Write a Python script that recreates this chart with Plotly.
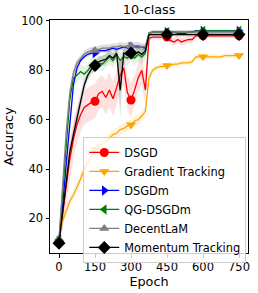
import plotly.graph_objects as go

epochs = list(range(0, 751, 15))

dsgd = [10.5, 22, 34, 44, 52, 58, 62, 65, 66, 67,
        67.5, 70.5, 71.5, 69, 72, 68.5, 73, 78, 81, 71,
        68, 72, 77, 80, 72, 93, 93.5, 93.5, 93.5, 93.5,
        93.5, 92, 91.5, 92.5, 91.5, 92, 92.5, 92.5, 94, 94,
        94, 94, 94, 94, 94, 94, 94, 94, 94, 94, 94]
dsgd_sd = [1, 6, 8, 8, 8, 7, 7, 7, 7, 7,
           7, 6.5, 6.5, 7, 7, 7, 7, 7, 7, 7,
           7, 6, 6, 6, 6, 1, 1, 1, 1, 1,
           1, 1.5, 1.5, 1.5, 1.5, 1.5, 1.5, 1.5, 1, 1,
           1, 1, 1, 1, 1, 1, 1, 1, 1, 1, 1]

gt = [10.5, 19, 23, 27, 29.5, 32.5, 36, 40, 43, 45.5,
      48, 49.5, 50, 51, 52.5, 54, 54.5, 56, 56.5, 57.5,
      58, 59.5, 60, 61.5, 63.5, 77, 80, 81, 81.5, 81.5,
      82, 82, 82.5, 82.5, 83, 83, 83, 83.5, 85.5, 85.5,
      85.5, 85.5, 85.5, 85.5, 85.5, 85.5, 86, 86, 86, 86, 86]
gt_sd = [1, 2, 2, 2, 2, 2, 2, 2, 2, 2,
         2, 2, 2, 2, 2, 2, 2, 2, 2, 2,
         2, 2, 2, 2, 2, 1.5, 1, 1, 1, 1,
         1, 1, 1, 1, 1, 1, 1, 1, 1, 1,
         1, 1, 1, 1, 1, 1, 1, 1, 1, 1, 1]

dsgdm = [11, 25, 42, 59, 74, 81, 84, 85.5, 86.5, 87,
         87, 88, 88, 88, 88.5, 89, 88.5, 89, 89.5, 89,
         89.5, 89.5, 89.5, 89.5, 89, 95, 95.5, 95.5, 95.5, 95.5,
         95.5, 95.5, 95.5, 95, 95, 95, 95.5, 95.5, 96, 96,
         96, 96, 96, 96, 96, 96, 96, 96, 96, 96, 96]
dsgdm_sd = [1, 2, 2, 2, 1.5, 1.5, 1, 1, 1, 1,
            1, 1, 1, 1, 1, 1, 1, 1, 1, 1,
            1, 1, 1, 1, 1, 0.5, 0.5, 0.5, 0.5, 0.5,
            0.5, 0.5, 0.5, 0.5, 0.5, 0.5, 0.5, 0.5, 0.5, 0.5,
            0.5, 0.5, 0.5, 0.5, 0.5, 0.5, 0.5, 0.5, 0.5, 0.5, 0.5]

qg = [11.5, 30, 52, 68, 77, 78, 79.5, 78.5, 80, 82,
      82, 83, 82.5, 84, 85.5, 84, 86.5, 84, 85.5, 85,
      86.5, 85, 86.5, 85.5, 87, 95, 95.5, 95.5, 95.5, 95.5,
      95.5, 95.5, 95.5, 95.5, 95.5, 95.5, 95.5, 95.5, 96, 96,
      96, 96, 96, 96, 96, 96, 96, 96, 96, 96, 96]
qg_sd = [1, 2, 2, 2, 3, 3, 3, 3, 3, 3,
         3, 3, 3, 3, 3, 3, 3, 3, 3, 3,
         3, 3, 3, 3, 3, 0.5, 0.5, 0.5, 0.5, 0.5,
         0.5, 0.5, 0.5, 0.5, 0.5, 0.5, 0.5, 0.5, 0.5, 0.5,
         0.5, 0.5, 0.5, 0.5, 0.5, 0.5, 0.5, 0.5, 0.5, 0.5, 0.5]

decentlam = [11.5, 32, 55, 71, 79, 83, 85, 86.5, 87.5, 88,
             88, 88.5, 89, 89, 89, 89.5, 89.5, 90, 89.5, 90,
             90, 90, 90, 89.5, 89.5, 95, 95.5, 95.5, 95.5, 95.5,
             95.5, 95.5, 95.5, 95.5, 95.5, 95.5, 95.5, 95.5, 95.5, 95.5,
             95.5, 95.5, 95.5, 95.5, 95.5, 95.5, 95.5, 95.5, 95.5, 95.5, 95.5]
decentlam_sd = [1, 2, 2, 2, 2, 1.5, 1.5, 1.5, 1.5, 1.5,
                1.5, 1.5, 1.5, 1.5, 1.5, 1.5, 1.5, 1.5, 1.5, 1.5,
                1.5, 1.5, 1.5, 1.5, 1.5, 0.8, 0.8, 0.8, 0.8, 0.8,
                0.8, 0.8, 0.8, 0.8, 0.8, 0.8, 0.8, 0.8, 0.8, 0.8,
                0.8, 0.8, 0.8, 0.8, 0.8, 0.8, 0.8, 0.8, 0.8, 0.8, 0.8]

mt = [10, 22, 35, 47, 54, 61, 68, 74, 78, 80.5,
      82, 83.5, 84, 84.5, 86, 85, 87, 72, 87, 86,
      87, 86.5, 87.5, 86.5, 88, 94.5, 94.5, 94.5, 94.5, 94.5,
      94.5, 94.5, 94.5, 94.5, 94.5, 94.5, 94.5, 94.5, 94.5, 94.5,
      94.5, 94.5, 94.5, 94.5, 94.5, 94.5, 94.5, 94.5, 94.5, 94.5, 94.5]
mt_sd = [1, 3, 3, 3, 3, 3, 3, 2.5, 2, 2,
         2, 2, 2, 2, 2, 2, 2, 11, 2, 2,
         2, 2, 2, 2, 2, 0.8, 0.8, 0.8, 0.8, 0.8,
         0.8, 0.8, 0.8, 0.8, 0.8, 0.8, 0.8, 0.8, 0.8, 0.8,
         0.8, 0.8, 0.8, 0.8, 0.8, 0.8, 0.8, 0.8, 0.8, 0.8, 0.8]

names = ["DSGD", "Gradient Tracking", "DSGDm", "QG-DSGDm", "DecentLaM", "Momentum Tracking"]
series = [dsgd, gt, dsgdm, qg, decentlam, mt]
spreads = [dsgd_sd, gt_sd, dsgdm_sd, qg_sd, decentlam_sd, mt_sd]
colors = ["#ff0000", "#ffa500", "#0000ff", "#008000", "#808080", "#000000"]
bands = ["rgba(255,0,0,0.12)", "rgba(255,165,0,0.15)", "rgba(0,0,255,0.10)",
         "rgba(0,128,0,0.10)", "rgba(128,128,128,0.25)", "rgba(0,0,0,0.15)"]
symbols = ["circle", "triangle-down", "triangle-right", "triangle-left", "triangle-up", "diamond"]
msizes = [9, 9, 9, 9, 9, 10]
mark_every = 10

fig = go.Figure()
for name, y, sd, c, bc in zip(names, series, spreads, colors, bands):
    upper = [v + s for v, s in zip(y, sd)]
    lower = [v - s for v, s in zip(y, sd)]
    fig.add_trace(go.Scatter(x=epochs, y=upper, mode="lines", line=dict(width=0),
                             showlegend=False, hoverinfo="skip"))
    fig.add_trace(go.Scatter(x=epochs, y=lower, mode="lines", line=dict(width=0),
                             fill="tonexty", fillcolor=bc, showlegend=False, hoverinfo="skip"))

for name, y, c, sym, ms in zip(names, series, colors, symbols, msizes):
    fig.add_trace(go.Scatter(x=epochs, y=y, mode="lines", line=dict(color=c, width=1.3),
                             showlegend=False))
    fig.add_trace(go.Scatter(x=epochs[::mark_every], y=y[::mark_every], mode="markers",
                             marker=dict(color=c, symbol=sym, size=ms, line=dict(width=0)),
                             showlegend=False))

for name, c, sym, ms in zip(names, colors, symbols, msizes):
    fig.add_trace(go.Scatter(x=[None], y=[None], mode="lines+markers", name=name,
                             line=dict(color=c, width=1.3),
                             marker=dict(color=c, symbol=sym, size=ms, line=dict(width=0))))

font = "DejaVu Sans"
fig.update_layout(
    width=258, height=293,
    margin=dict(l=48, r=8, t=20, b=38),
    paper_bgcolor="white", plot_bgcolor="white",
    font=dict(family=font, size=11.5, color="black"),
    title=dict(text="10-class", x=0.578, xanchor="center", y=0.966, yanchor="middle",
               font=dict(family=font, size=12.8, color="black")),
    xaxis=dict(range=[-37.5, 787.5], tickvals=[0, 150, 300, 450, 600, 750],
               showline=True, linecolor="black", linewidth=1, mirror=True,
               ticks="outside", ticklen=3.5, tickcolor="black", showgrid=False, zeroline=False,
               title=dict(text="Epoch", font=dict(size=12.8), standoff=2)),
    yaxis=dict(range=[6, 100.4], tickvals=[20, 40, 60, 80, 100],
               showline=True, linecolor="black", linewidth=1, mirror=True,
               ticks="outside", ticklen=3.5, tickcolor="black", showgrid=False, zeroline=False,
               title=dict(text="Accuracy", font=dict(size=12.8), standoff=4)),
    legend=dict(x=0.168, y=0.498, xanchor="left", yanchor="top", traceorder="normal",
                bgcolor="rgba(255,255,255,0.8)", bordercolor="#cccccc", borderwidth=1,
                font=dict(family=font, size=11.4, color="black"),
                itemwidth=30, tracegroupgap=0),
)

fig.write_html("out.html", config={"displayModeBar": False},
               post_script="document.body.style.margin='0';document.body.style.padding='0';")
